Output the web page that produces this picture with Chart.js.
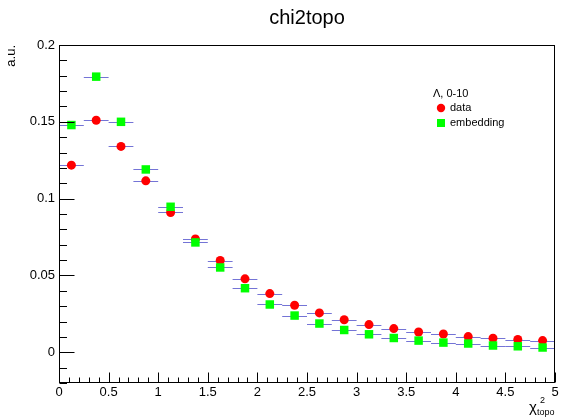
<!DOCTYPE html>
<html>
<head>
<meta charset="utf-8">
<script src="https://cdn.jsdelivr.net/npm/chart.js@4/dist/chart.umd.min.js"></script>
<style>
  html, body { margin: 0; padding: 0; background: #fff; }
  #wrap { width: 561px; height: 418px; }
</style>
</head>
<body>
<div id="wrap"><canvas id="c" width="561" height="418"></canvas></div>
<script>
// ---- data ----
const binCenters = [0.125, 0.375, 0.625, 0.875, 1.125, 1.375, 1.625, 1.875, 2.125, 2.375,
                    2.625, 2.875, 3.125, 3.375, 3.625, 3.875, 4.125, 4.375, 4.625, 4.875];
const binHalfWidth = 0.125;
const dataValues = [0.1218, 0.151, 0.134, 0.1116, 0.091, 0.0738, 0.0597, 0.0478, 0.0382, 0.0306,
                    0.0256, 0.0212, 0.018, 0.0154, 0.0132, 0.0119, 0.0102, 0.0091, 0.0083, 0.0076];
const embeddingValues = [0.1479, 0.1794, 0.150, 0.119, 0.0947, 0.0715, 0.0552, 0.0417, 0.0311, 0.0239,
                         0.0187, 0.0145, 0.0117, 0.0093, 0.0076, 0.0063, 0.0057, 0.0044, 0.0039, 0.0031];
const xTickLabels = [0, 0.5, 1, 1.5, 2, 2.5, 3, 3.5, 4, 4.5, 5];
const yTickLabels = [0, 0.05, 0.1, 0.15, 0.2];
const titleText = 'chi2topo';
const legendHeader = 'Λ, 0-10';
const seriesNames = ['data', 'embedding'];

const FONT = 'Liberation Sans, Arial, Helvetica, sans-serif';

const pts = vals => binCenters.map((x, i) => ({x: x, y: vals[i]}));

// horizontal bin-width bars
const errBars = {
  id: 'errBars',
  beforeDatasetsDraw(chart) {
    const {ctx, scales: {x, y}} = chart;
    ctx.save();
    chart.data.datasets.forEach(ds => {
      ctx.strokeStyle = ds.errColor;
      ctx.lineWidth = 1;
      ds.data.forEach(p => {
        const x0 = x.getPixelForValue(p.x - binHalfWidth);
        const x1 = x.getPixelForValue(p.x + binHalfWidth);
        const py = Math.round(y.getPixelForValue(p.y)) + 0.5;
        ctx.beginPath();
        ctx.moveTo(x0, py);
        ctx.lineTo(x1, py);
        ctx.stroke();
      });
    });
    ctx.restore();
  }
};

// ROOT-style frame with inward ticks
const frame = {
  id: 'frame',
  afterDraw(chart) {
    const {ctx, chartArea: a, scales: {x, y}} = chart;
    ctx.save();
    ctx.strokeStyle = '#000';
    ctx.lineWidth = 1;
    const L = Math.round(a.left) + 0.5, R = Math.round(a.right) - 0.5;
    const T = Math.round(a.top) + 0.5, B = Math.round(a.bottom) - 0.5;
    ctx.strokeRect(L, T, R - L, B - T);
    ctx.beginPath();
    for (let i = 0; i <= 50; i++) {
      const v = i * 0.1;
      const px = Math.round(x.getPixelForValue(v)) + 0.5;
      const len = (i % 5 === 0) ? 10 : 5;
      ctx.moveTo(px, B);
      ctx.lineTo(px, B - len);
    }
    for (let i = -2; i <= 20; i++) {
      const v = i * 0.01;
      const py = Math.round(y.getPixelForValue(v)) + 0.5;
      const len = (i % 5 === 0) ? 15 : 7.5;
      ctx.moveTo(L, py);
      ctx.lineTo(L + len, py);
    }
    ctx.stroke();

    // x-axis title: chi^2_topo
    ctx.fillStyle = '#000';
    ctx.textBaseline = 'alphabetic';
    ctx.textAlign = 'left';
    ctx.font = '15px ' + FONT;
    ctx.fillText('χ', 529, 412);
    ctx.font = '9px ' + FONT;
    ctx.fillText('2', 540, 403);
    ctx.fillText('topo', 537, 415);

    // legend
    ctx.font = '11px ' + FONT;
    ctx.textBaseline = 'middle';
    ctx.fillText(legendHeader, 433, 94);
    const ds = chart.data.datasets;
    ctx.fillStyle = ds[0].backgroundColor;
    ctx.beginPath();
    ctx.arc(441, 108, 4.2, 0, Math.PI * 2);
    ctx.fill();
    ctx.fillStyle = ds[1].backgroundColor;
    ctx.fillRect(437, 119, 8, 8);
    ctx.fillStyle = '#000';
    ctx.fillText(ds[0].label, 450, 108);
    ctx.fillText(ds[1].label, 450, 123);
    ctx.restore();
  }
};

new Chart(document.getElementById('c'), {
  type: 'scatter',
  data: {
    datasets: [
      {
        label: seriesNames[0],
        data: pts(dataValues),
        pointStyle: 'circle',
        pointRadius: 4.5,
        backgroundColor: '#ff0000',
        borderColor: '#ff0000',
        borderWidth: 0,
        errColor: 'rgba(70,70,200,0.75)',
        order: 2
      },
      {
        label: seriesNames[1],
        data: pts(embeddingValues),
        pointStyle: 'rect',
        pointRadius: 6,
        backgroundColor: '#00ff00',
        borderColor: '#00ff00',
        borderWidth: 0,
        errColor: 'rgba(70,70,200,0.75)',
        order: 1
      }
    ]
  },
  options: {
    responsive: false,
    animation: false,
    devicePixelRatio: 1,
    layout: { padding: { top: 0, right: 5, bottom: 0, left: 0 } },
    plugins: {
      legend: { display: false },
      tooltip: { enabled: false },
      title: {
        display: true,
        text: titleText,
        fullSize: false,
        color: '#000',
        font: { family: FONT, size: 20, weight: 'normal', lineHeight: 1.2 },
        padding: { top: 6, bottom: 15 }
      }
    },
    scales: {
      x: {
        type: 'linear',
        min: 0, max: 5,
        afterBuildTicks: s => { s.ticks = xTickLabels.map(v => ({value: v})); },
        afterFit: s => { s.height = 35; },
        grid: { display: false, drawTicks: false },
        border: { display: false },
        ticks: {
          color: '#000',
          padding: 2,
          maxRotation: 0,
          autoSkip: false,
          font: { family: FONT, size: 13 },
          callback: v => String(v)
        }
      },
      y: {
        type: 'linear',
        min: -0.02, max: 0.2,
        afterBuildTicks: s => { s.ticks = yTickLabels.map(v => ({value: v})); },
        afterFit: s => { s.width = 59; },
        grid: { display: false, drawTicks: false },
        border: { display: false },
        title: {
          display: true,
          text: 'a.u.',
          align: 'end',
          color: '#000',
          font: { family: FONT, size: 13 },
          padding: { top: 4, bottom: 0 }
        },
        ticks: {
          color: '#000',
          padding: 4,
          autoSkip: false,
          font: { family: FONT, size: 13 },
          callback: v => String(v)
        }
      }
    }
  },
  plugins: [errBars, frame]
});
</script>
</body>
</html>
